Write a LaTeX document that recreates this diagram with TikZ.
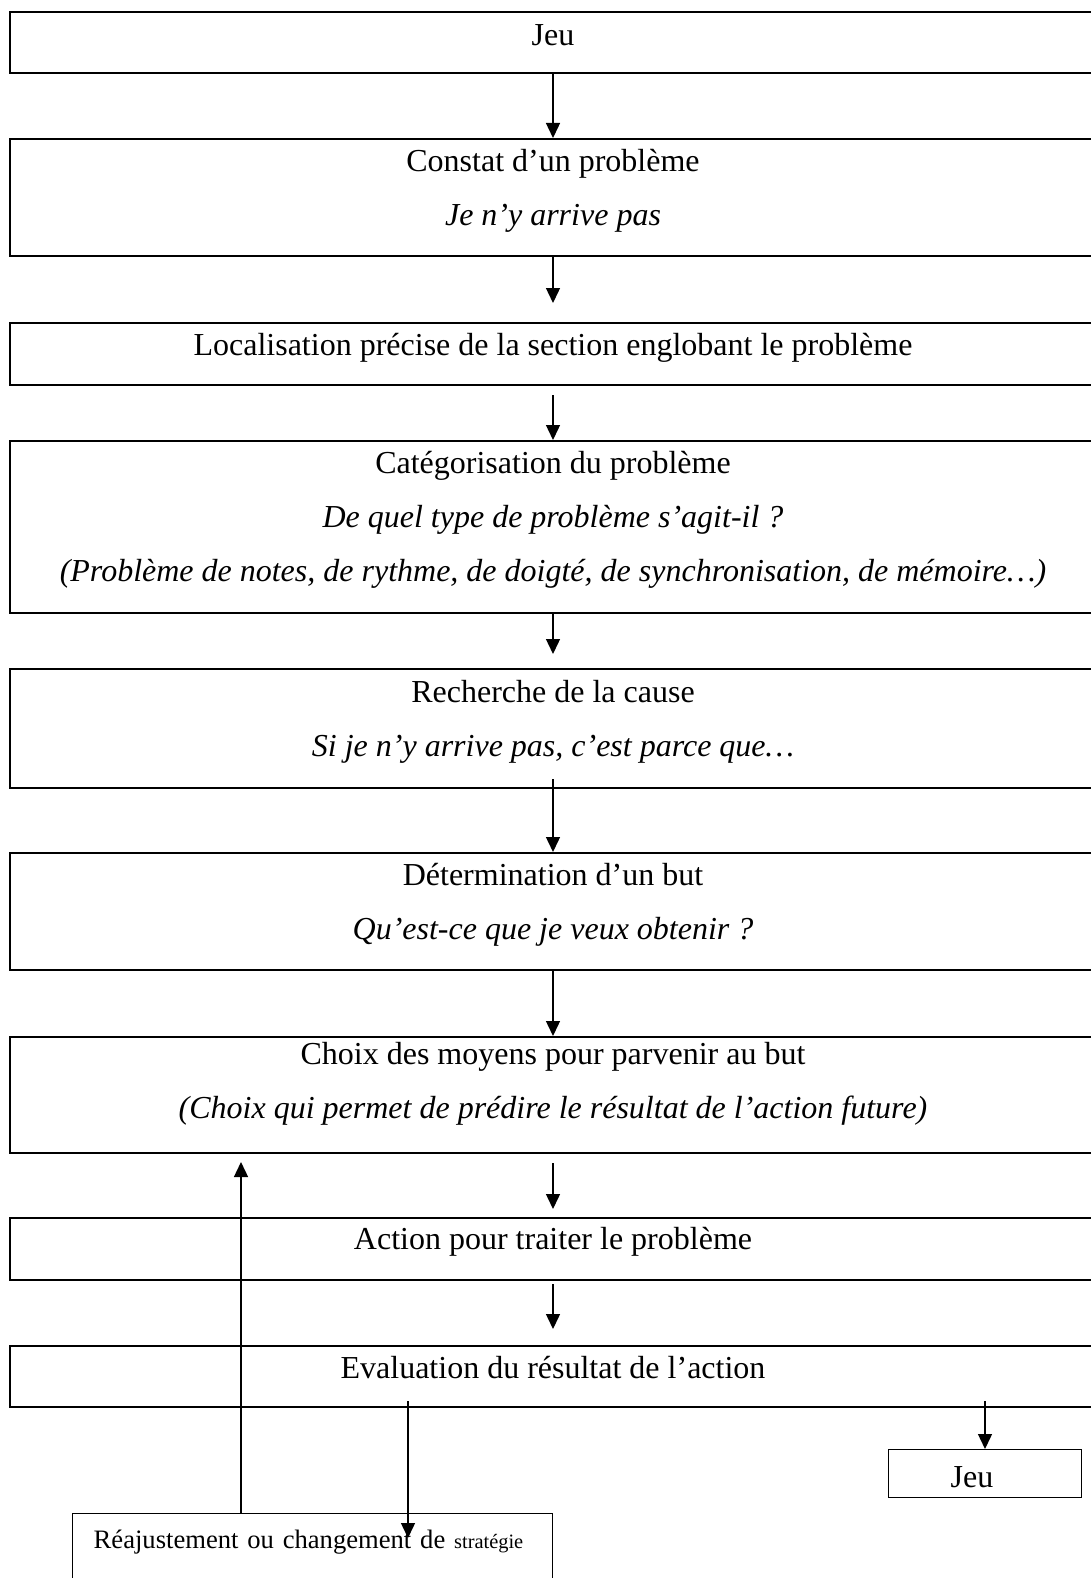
\documentclass[tikz,border=0pt]{standalone}
\usepackage{fontspec}
\setmainfont{Liberation Serif}
\usepackage{tikz}
\usetikzlibrary{arrows.meta,shapes}
\tikzstyle{etape}=[draw,line width=1.2pt,anchor=north,minimum width=543pt,inner xsep=0pt,inner ysep=0pt,align=center,font=\fontsize{16}{27}\selectfont]
\tikzstyle{petite}=[draw,line width=0.7pt,anchor=north west,inner ysep=0pt,align=left]
\tikzstyle{fleche} = [draw,line width=0.7pt,-{Triangle[length=7.5pt,width=7pt]}]

\begin{document}
\begin{tikzpicture}[x=0.5pt,y=-0.5pt]
    \useasboundingbox (0,0) rectangle (1091,1578);
    % the steps, top to bottom (text height counts up to the last line)
    \node[etape,text height=16.5pt,text depth=14pt] (jeu) at (553,11) {Jeu};
    \node[etape,text height=43pt,text depth=15.5pt] (constat) at (553,138)
        {Constat d’un problème\\ \textit{Je n’y arrive pas}};
    \node[etape,text height=16pt,text depth=15pt] (local) at (553,322)
        {Localisation précise de la section englobant le problème};
    \node[etape,text height=70pt,text depth=16pt] (categ) at (553,440)
        {Catégorisation du problème\\ \textit{De quel type de problème s’agit-il~?}\\
         \textit{(Problème de notes, de rythme, de doigté, de synchronisation, de mémoire…)}};
    \node[etape,text height=43.5pt,text depth=16pt] (cause) at (553,668)
        {Recherche de la cause\\ \textit{Si je n’y arrive pas, c’est parce que…}};
    \node[etape,text height=43pt,text depth=15.5pt] (but) at (553,852)
        {Détermination d’un but\\ \textit{Qu’est-ce que je veux obtenir~?}};
    \node[etape,text height=40.5pt,text depth=17.5pt] (moyens) at (553,1036)
        {Choix des moyens pour parvenir au but\\
         \textit{(Choix qui permet de prédire le résultat de l’action future)}};
    \node[etape,text height=15.5pt,text depth=15.5pt] (action) at (553,1217)
        {Action pour traiter le problème};
    \node[etape,text height=16pt,text depth=14.5pt] (eval) at (553,1345)
        {Evaluation du résultat de l’action};
    % the two ways out of the evaluation
    \node[petite,inner xsep=31pt,text width=34.5pt,text height=19pt,text depth=5pt,
          font=\fontsize{16}{19}\selectfont] (jeufin) at (888,1449) {Jeu};
    \node[petite,inner xsep=10.5pt,text width=219pt,text height=17.5pt,text depth=36pt,
          font=\fontsize{13.3}{16}\selectfont] (reaj) at (72,1513)
        {Réajustement ou changement de {\fontsize{10.2}{12}\selectfont stratégie}};
    % arrows between the steps
    \foreach \source/\dest/\sa/\sb in {jeu/constat/0/0, constat/local/0/9.5, local/categ/4.5/0,
        categ/cause/0/7, cause/but/-5/0, but/moyens/0/0, moyens/action/4.5/4, action/eval/1.5/8}
        \path[fleche,shorten <=\sa pt,shorten >=\sb pt] (\source) -- (\dest);
    % feedback loop
    \coordinate (retour) at (241,1162);
    \coordinate (evalA) at (408,1401);
    \coordinate (evalB) at (985,1401);
    \path[fleche] (reaj.north -| retour) -- (retour);
    \path[fleche,shorten >=-12.5pt] (evalA) -- (evalA |- reaj.north);
    \path[fleche] (evalB) -- (evalB |- jeufin.north);
\end{tikzpicture}
\end{document}
